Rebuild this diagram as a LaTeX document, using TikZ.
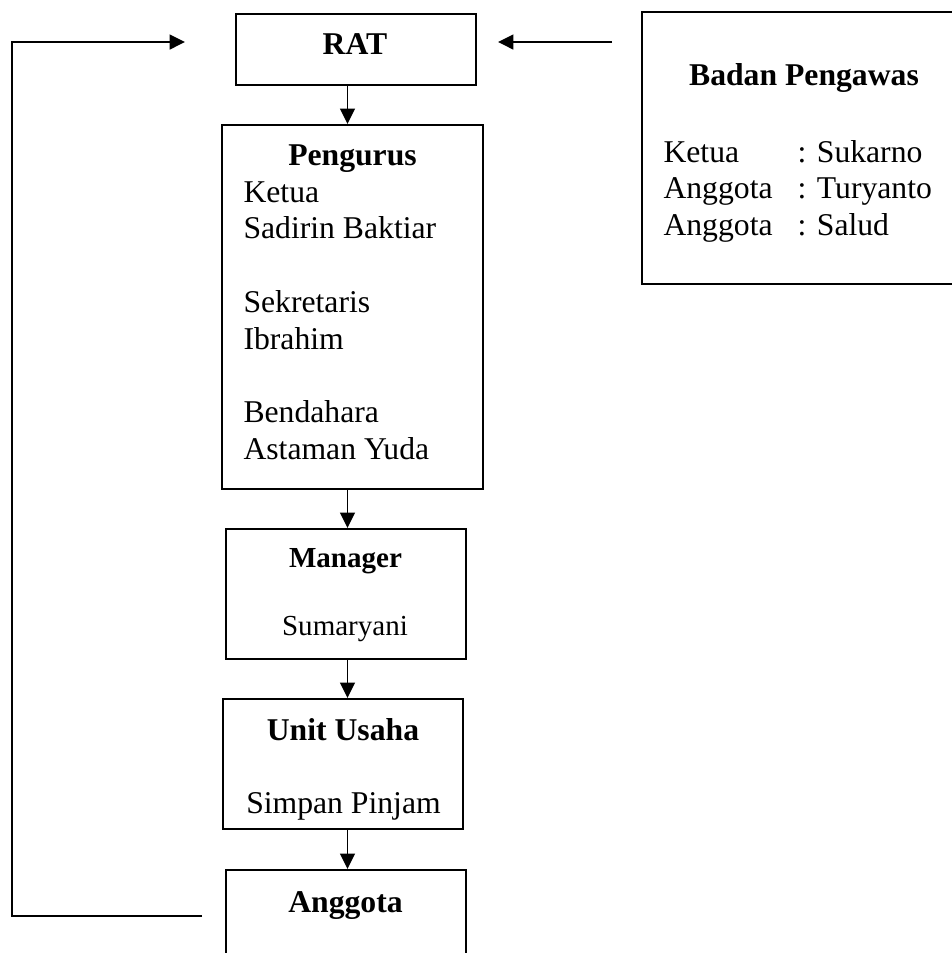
\documentclass[tikz,border=0pt]{standalone}
\usepackage{fontspec}
\setmainfont{Liberation Serif}
\usetikzlibrary{arrows.meta}
\tikzset{
  box/.style={draw,line width=.85pt,inner sep=0pt},
  ttl/.style={inner sep=0pt,anchor=base,font=\fontsize{12}{14}\selectfont\bfseries},
  lbl/.style={inner sep=0pt,anchor=base,font=\fontsize{12}{14}\selectfont},
  lst/.style={inner sep=0pt,anchor=base west,font=\fontsize{12}{14}\selectfont},
  smallttl/.style={ttl,font=\fontsize{11}{13}\selectfont\bfseries},
  smalllbl/.style={lbl,font=\fontsize{11}{13}\selectfont},
  arr/.style={line width=.75pt,-{Triangle[length=5.8pt,width=5.6pt]}}
}
\begin{document}
\begin{tikzpicture}[x=0.3788pt,y=-0.3788pt]
	\useasboundingbox (0,0) rectangle (952,953);
	\clip (0,0) rectangle (952,953);

	% boxes
	\node[box,minimum width=90.9pt,minimum height=26.9pt] (rat) at (356,49.5) {};
	\node[box,minimum width=98.9pt,minimum height=137.9pt] (pengurus) at (352.5,307) {};
	\node[box,minimum width=90.9pt,minimum height=49.2pt] (manager) at (346,594) {};
	\node[box,minimum width=90.9pt,minimum height=49.2pt] (unit) at (343,764) {};
	\node[box,minimum width=90.9pt,minimum height=49.2pt] (anggota) at (346,935) {};
	\node[box,minimum width=135.6pt,minimum height=103pt] (badan) at (821,148) {};

	% texts
	\node[ttl] (ratT) at (355,54) {RAT};
	\node[ttl] (pengurusT) at (352.5,165) {Pengurus};
	\node[lst] (ketua) at (243,202) {Ketua};
	\node[lst] (ketuaN) at (243,238.5) {Sadirin Baktiar};
	\node[lst] (sekr) at (243,312) {Sekretaris};
	\node[lst] (sekrN) at (243,349) {Ibrahim};
	\node[lst] (bend) at (243,422.5) {Bendahara};
	\node[lst] (bendN) at (243,459) {Astaman Yuda};
	\node[smallttl] (managerT) at (345.5,567) {Manager};
	\node[smalllbl] (managerN) at (345,635) {Sumaryani};
	\node[ttl] (unitT) at (343,740) {Unit Usaha};
	\node[lbl] (unitN) at (343.5,813) {Simpan Pinjam};
	\node[ttl] (anggotaT) at (345.5,912) {Anggota};
	\node[ttl] (badanT) at (804,85) {Badan Pengawas};
	\node[lst] (bp1) at (663,162) {Ketua};
	\node[lst] (bp2) at (663,198) {Anggota};
	\node[lst] (bp3) at (663,235) {Anggota};
	\node[lst] (bp1N) at (797,162) {: Sukarno};
	\node[lst] (bp2N) at (797,198) {: Turyanto};
	\node[lst] (bp3N) at (797,235) {: Salud};

	% arrows
	\coordinate (spine) at (347.5,0);
	\draw[arr] (rat.south -| spine) -- (pengurus.north -| spine);
	\draw[arr] (pengurus.south -| spine) -- (manager.north -| spine);
	\draw[arr] (manager.south -| spine) -- (unit.north -| spine);
	\draw[arr] (unit.south -| spine) -- (anggota.north -| spine);

	\coordinate (fbA) at (202,916);
	\coordinate (fbC) at (12,42);
	\coordinate (fbB) at (185,42);
	\draw[arr] (fbA) -| (fbC) -- (fbB);

	\coordinate (bpA) at (612,42);
	\coordinate (bpB) at (498,42);
	\draw[arr] (bpA) -- (bpB);
\end{tikzpicture}
\end{document}
